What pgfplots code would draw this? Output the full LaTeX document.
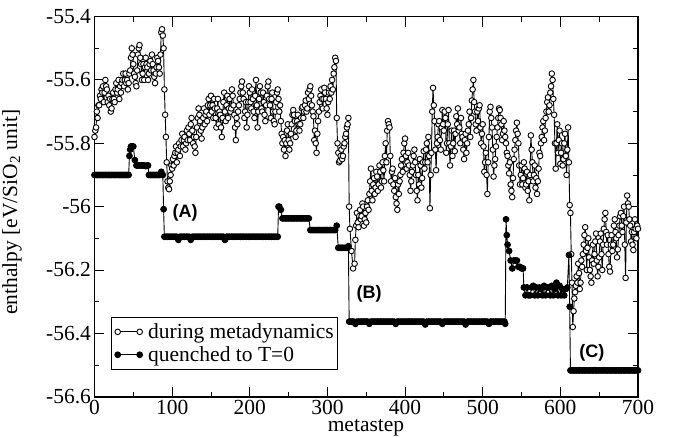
\documentclass[border=0pt]{standalone}
\usepackage{pgfplots}
\pgfplotsset{compat=1.18}
\usepackage{fontspec}
\setmainfont{Liberation Serif}
\setsansfont{Liberation Sans}
\begin{document}
\begin{tikzpicture}
\useasboundingbox (-94.5pt,-41.3pt) rectangle (585.5pt,396.7pt);
\begin{axis}[
  at={(0pt,0pt)}, anchor=south west,
  scale only axis, width=543.5pt, height=380.1pt,
  xmin=0, xmax=700, ymin=-56.6, ymax=-55.4,
  xtick={0,100,200,300,400,500,600,700},
  minor xtick={50,150,250,350,450,550,650},
  ytick={-56.6,-56.4,-56.2,-56,-55.8,-55.6,-55.4},
  minor ytick={-56.5,-56.3,-56.1,-55.9,-55.7,-55.5},
  tick align=inside, major tick length=10pt, minor tick length=5pt,
  tick style={line width=0.9pt, black},
  axis line style={line width=1.8pt},
  /pgf/number format/assume math mode=true,
  ticklabel style={font=\fontsize{21.5}{24}\selectfont},
  label style={font=\fontsize{21.5}{24}\selectfont},
  xlabel={metastep},
  ylabel={enthalpy [eV/SiO\textsubscript{2} unit]},
  xlabel style={at={(axis description cs:0.4995,-0.0824)}, anchor=center},
  ylabel style={at={(axis description cs:-0.152,0.485)}, anchor=center},
  clip=false,
  legend cell align=left,
  legend style={at={(axis description cs:0.0298,0.0702)}, anchor=south west,
    draw=black, line width=1.1pt, font=\fontsize{21.5}{24}\selectfont,
    inner xsep=2pt, inner ysep=4.5pt, row sep=2.5pt},
  legend image code/.code={\path (-4pt,0pt) (28pt,0pt);\draw[#1] plot coordinates {(0pt,0pt) (22pt,0pt)};},
]
\addplot[black, line width=0.9pt, mark=*, mark size=2.8pt, mark options={fill=white, line width=0.9pt}] coordinates {
(0,-55.78)(1,-55.76)(2,-55.75)(3,-55.70)(4,-55.72)(5,-55.68)(6,-55.68)(7,-55.65)(8,-55.66)(9,-55.63)
(10,-55.64)(11,-55.62)(12,-55.67)(13,-55.64)(14,-55.60)(15,-55.62)(16,-55.63)(17,-55.67)(18,-55.65)(19,-55.68)
(20,-55.66)(21,-55.70)(22,-55.69)(23,-55.66)(24,-55.64)(25,-55.66)(26,-55.67)(27,-55.63)(28,-55.61)(29,-55.64)
(30,-55.63)(31,-55.60)(32,-55.66)(33,-55.62)(34,-55.64)(35,-55.61)(36,-55.60)(37,-55.58)(38,-55.62)(39,-55.60)
(40,-55.58)(41,-55.61)(42,-55.60)(43,-55.63)(44,-55.61)(45,-55.58)(46,-55.57)(47,-55.53)(48,-55.50)(49,-55.52)
(50,-55.55)(51,-55.58)(52,-55.59)(53,-55.61)(54,-55.62)(55,-55.57)(56,-55.52)(57,-55.50)(58,-55.49)(59,-55.53)
(60,-55.55)(61,-55.60)(62,-55.58)(63,-55.55)(64,-55.60)(65,-55.56)(66,-55.53)(67,-55.55)(68,-55.56)(69,-55.60)
(70,-55.58)(71,-55.55)(72,-55.54)(73,-55.57)(74,-55.52)(75,-55.55)(76,-55.57)(77,-55.59)(78,-55.61)(79,-55.58)
(80,-55.56)(81,-55.53)(82,-55.54)(83,-55.56)(84,-55.58)(85,-55.52)(86,-55.45)(87,-55.44)(88,-55.46)(89,-55.50)
(90,-55.63)(91,-55.71)(92,-55.78)(93,-55.86)(94,-55.92)(95,-55.94)(96,-55.945)(97,-55.92)(98,-55.90)(99,-55.87)
(100,-55.88)(101,-55.85)(102,-55.87)(103,-55.84)(104,-55.83)(105,-55.81)(106,-55.86)(107,-55.83)(108,-55.82)(109,-55.80)
(110,-55.84)(111,-55.81)(112,-55.79)(113,-55.77)(114,-55.81)(115,-55.79)(116,-55.78)(117,-55.82)(118,-55.80)(119,-55.76)
(120,-55.79)(121,-55.75)(122,-55.77)(123,-55.79)(124,-55.74)(125,-55.72)(126,-55.76)(127,-55.80)(128,-55.78)(129,-55.81)
(130,-55.83)(131,-55.78)(132,-55.75)(133,-55.72)(134,-55.69)(135,-55.71)(136,-55.73)(137,-55.76)(138,-55.785)(139,-55.75)
(140,-55.72)(141,-55.69)(142,-55.74)(143,-55.71)(144,-55.70)(145,-55.73)(146,-55.68)(147,-55.66)(148,-55.71)(149,-55.68)
(150,-55.65)(151,-55.70)(152,-55.68)(153,-55.72)(154,-55.66)(155,-55.69)(156,-55.72)(157,-55.75)(158,-55.69)(159,-55.66)
(160,-55.74)(161,-55.70)(162,-55.71)(163,-55.75)(164,-55.78)(165,-55.72)(166,-55.67)(167,-55.64)(168,-55.70)(169,-55.73)
(170,-55.68)(171,-55.65)(172,-55.72)(173,-55.69)(174,-55.66)(175,-55.70)(176,-55.69)(177,-55.63)(178,-55.65)(179,-55.68)
(180,-55.71)(181,-55.75)(182,-55.79)(183,-55.72)(184,-55.74)(185,-55.70)(186,-55.68)(187,-55.66)(188,-55.64)(189,-55.62)
(190,-55.605)(191,-55.64)(192,-55.66)(193,-55.72)(194,-55.70)(195,-55.67)(196,-55.75)(197,-55.71)(198,-55.67)(199,-55.62)
(200,-55.64)(201,-55.67)(202,-55.69)(203,-55.63)(204,-55.66)(205,-55.70)(206,-55.72)(207,-55.65)(208,-55.60)(209,-55.68)
(210,-55.75)(211,-55.70)(212,-55.66)(213,-55.62)(214,-55.64)(215,-55.69)(216,-55.70)(217,-55.64)(218,-55.67)(219,-55.71)
(220,-55.73)(221,-55.68)(222,-55.65)(223,-55.62)(224,-55.605)(225,-55.66)(226,-55.68)(227,-55.72)(228,-55.66)(229,-55.64)
(230,-55.70)(231,-55.73)(232,-55.74)(233,-55.70)(234,-55.67)(235,-55.64)(236,-55.63)(237,-55.66)(238,-55.70)(239,-55.68)
(240,-55.73)(241,-55.77)(242,-55.80)(243,-55.78)(244,-55.82)(245,-55.79)(246,-55.84)(247,-55.80)(248,-55.76)(249,-55.74)
(250,-55.79)(251,-55.82)(252,-55.80)(253,-55.77)(254,-55.74)(255,-55.71)(256,-55.695)(257,-55.71)(258,-55.73)(259,-55.78)
(260,-55.76)(261,-55.73)(262,-55.71)(263,-55.74)(264,-55.76)(265,-55.74)(266,-55.72)(267,-55.69)(268,-55.685)(269,-55.72)
(270,-55.70)(271,-55.68)(272,-55.665)(273,-55.70)(274,-55.69)(275,-55.64)(276,-55.66)(277,-55.63)(278,-55.62)(279,-55.65)
(280,-55.68)(281,-55.70)(282,-55.715)(283,-55.79)(284,-55.76)(285,-55.80)(286,-55.83)(287,-55.77)(288,-55.73)(289,-55.70)
(290,-55.67)(291,-55.65)(292,-55.63)(293,-55.66)(294,-55.69)(295,-55.66)(296,-55.625)(297,-55.64)(298,-55.66)(299,-55.69)
(300,-55.71)(301,-55.67)(302,-55.64)(303,-55.66)(304,-55.62)(305,-55.64)(306,-55.60)(307,-55.63)(308,-55.58)(309,-55.56)
(310,-55.53)(311,-55.54)(312,-55.72)(313,-55.80)(314,-55.83)(315,-55.86)(316,-55.855)(317,-55.84)(318,-55.82)(319,-55.85)
(320,-55.84)(321,-55.81)(322,-55.80)(323,-55.78)(324,-55.77)(325,-55.75)(326,-55.74)(327,-55.72)(328,-56.00)(329,-56.07)
(331,-56.14)(333,-56.195)(335,-56.18)(336,-56.105)(337,-56.06)
(338,-56.02)(339,-56.05)(340,-56.065)(341,-56.03)(342,-56.01)(343,-56.04)(344,-56.03)(345,-55.99)(346,-56.00)(347,-56.06)
(348,-56.04)(349,-56.02)(350,-56.05)(351,-56.00)(352,-55.98)(353,-56.01)(354,-55.96)(355,-55.92)(356,-55.88)(357,-55.95)
(358,-55.98)(359,-55.93)(360,-55.91)(361,-55.96)(362,-55.94)(363,-55.89)(364,-55.905)(365,-55.95)(366,-55.93)(367,-55.87)
(368,-55.89)(369,-55.94)(370,-55.92)(371,-55.86)(372,-55.885)(373,-55.92)(374,-55.84)(375,-55.80)(376,-55.86)(377,-55.76)
(378,-55.73)(379,-55.74)(380,-55.75)(381,-55.84)(382,-55.92)(383,-55.89)(384,-55.88)(385,-55.93)(386,-55.95)(387,-55.91)
(388,-55.97)(389,-55.99)(390,-56.01)(391,-55.93)(392,-55.96)(393,-55.92)(394,-55.90)(395,-55.87)(396,-55.85)(397,-55.89)
(398,-55.83)(399,-55.80)(400,-55.785)(401,-55.84)(402,-55.88)(403,-55.86)(404,-55.83)(405,-55.87)(406,-55.90)(407,-55.95)
(408,-55.92)(409,-55.89)(410,-55.87)(411,-55.84)(412,-55.82)(413,-55.86)(414,-55.90)(415,-55.95)(416,-55.98)(417,-55.90)
(418,-55.93)(419,-55.85)(420,-55.87)(421,-55.94)(422,-55.91)(423,-55.86)(424,-55.825)(425,-55.88)(426,-55.86)(427,-55.82)
(428,-55.80)(429,-55.86)(430,-55.78)(431,-55.84)(432,-56.005)(433,-55.90)(434,-55.83)(435,-55.70)(436,-55.625)(437,-55.68)
(438,-55.73)(439,-55.82)(440,-55.885)(441,-55.80)(442,-55.78)(443,-55.74)(444,-55.73)(445,-55.79)(446,-55.82)(447,-55.75)
(448,-55.695)(449,-55.74)(450,-55.76)(451,-55.70)(452,-55.72)(453,-55.83)(454,-55.80)(455,-55.74)(456,-55.695)(457,-55.80)
(458,-55.87)(459,-55.81)(460,-55.76)(461,-55.84)(462,-55.80)(463,-55.76)(464,-55.825)(465,-55.77)(466,-55.715)(467,-55.74)
(468,-55.69)(469,-55.76)(470,-55.75)(471,-55.80)(472,-55.72)(473,-55.77)(474,-55.78)(475,-55.82)(476,-55.85)(477,-55.79)
(478,-55.77)(479,-55.83)(480,-55.80)(481,-55.76)(482,-55.74)(483,-55.70)(484,-55.78)(485,-55.72)(486,-55.665)(487,-55.63)
(488,-55.60)(489,-55.67)(490,-55.70)(491,-55.74)(492,-55.76)(493,-55.70)(494,-55.73)(495,-55.69)(496,-55.68)(497,-55.75)
(498,-55.80)(499,-55.77)(500,-55.74)(501,-55.81)(502,-55.89)(503,-55.86)(504,-55.83)(505,-55.90)(506,-55.96)(507,-55.86)
(508,-55.78)(509,-55.70)(510,-55.685)(511,-55.72)(512,-55.75)(513,-55.82)(514,-55.905)(515,-55.87)(516,-55.85)(517,-55.81)
(518,-55.78)(519,-55.75)(520,-55.72)(521,-55.69)(522,-55.695)(523,-55.72)(524,-55.74)(525,-55.79)(526,-55.77)(527,-55.73)
(528,-55.76)(529,-55.78)(530,-55.80)(531,-55.83)(532,-55.84)(533,-55.87)(534,-55.895)(535,-55.86)(536,-55.93)(537,-55.95)
(538,-55.97)(539,-55.91)(540,-55.85)(541,-55.82)(542,-55.79)(543,-55.76)(544,-55.735)(545,-55.77)(546,-55.80)(547,-55.87)
(548,-55.93)(549,-55.90)(550,-55.87)(551,-55.93)(552,-55.91)(553,-55.86)(554,-55.88)(555,-55.94)(556,-55.93)(557,-55.89)
(558,-55.95)(559,-55.92)(560,-55.98)(561,-55.90)(562,-55.775)(563,-55.82)(564,-55.86)(565,-55.92)(566,-55.90)(567,-55.87)
(568,-55.94)(569,-55.91)(570,-55.96)(571,-55.92)(572,-55.88)(573,-55.83)(574,-55.84)(575,-55.80)(576,-55.78)(577,-55.75)
(578,-55.73)(579,-55.79)(580,-55.76)(581,-55.72)(582,-55.70)(583,-55.67)(584,-55.655)(585,-55.70)(586,-55.68)(587,-55.64)
(588,-55.62)(589,-55.58)(590,-55.60)(591,-55.66)(592,-55.71)(593,-55.80)(594,-55.88)(595,-55.80)(596,-55.74)(597,-55.83)
(598,-55.79)(599,-55.76)(600,-55.865)(601,-55.83)(602,-55.80)(603,-55.87)(604,-55.85)(605,-55.80)(606,-55.77)(607,-55.84)
(608,-55.90)(609,-55.82)(610,-55.75)(611,-55.86)(612,-55.995)(613,-56.02)(614,-56.15)(615,-56.24)(616,-56.38)(617,-56.33)
(618,-56.29)(619,-56.27)(620,-56.25)(621,-56.22)(622,-56.24)(623,-56.18)(624,-56.21)(625,-56.26)(626,-56.24)(627,-56.17)
(628,-56.19)(629,-56.15)(630,-56.12)(631,-56.09)(632,-56.065)(633,-56.14)(634,-56.20)(635,-56.13)(636,-56.10)(637,-56.16)
(638,-56.20)(639,-56.22)(640,-56.24)(641,-56.17)(642,-56.12)(643,-56.18)(644,-56.15)(645,-56.11)(646,-56.085)(647,-56.17)
(648,-56.22)(649,-56.19)(650,-56.16)(651,-56.11)(652,-56.085)(653,-56.15)(654,-56.20)(655,-56.12)(656,-56.07)(657,-56.04)
(658,-56.02)(659,-56.08)(660,-56.12)(661,-56.09)(662,-56.15)(663,-56.19)(664,-56.205)(665,-56.12)(666,-56.09)(667,-56.14)
(668,-56.12)(669,-56.06)(670,-56.04)(671,-56.08)(672,-56.10)(673,-56.16)(674,-56.135)(675,-56.09)(676,-56.06)(677,-56.03)
(678,-56.02)(679,-56.06)(680,-56.08)(681,-56.03)(682,-56.00)(683,-56.12)(684,-56.225)(685,-56.05)(686,-55.965)(687,-55.99)
(688,-56.00)(689,-56.04)(690,-56.06)(691,-56.11)(692,-56.08)(693,-56.12)(694,-56.137)(695,-56.08)(696,-56.04)(697,-56.07)
(698,-56.10)(699,-56.06)(700,-56.07)
};
\addlegendentry{during metadynamics}
\addplot[black, line width=0.9pt, mark=*, mark size=2.9pt, mark options={fill=black}] coordinates {
(0,-55.9)(2,-55.9)(4,-55.9)(6,-55.9)(8,-55.9)(10,-55.9)(12,-55.9)(14,-55.9)(16,-55.9)(18,-55.9)(20,-55.9)(22,-55.9)
(24,-55.9)(26,-55.9)(28,-55.9)(30,-55.9)(32,-55.9)(34,-55.9)(36,-55.9)(38,-55.9)(40,-55.9)(42,-55.9)(44,-55.9)
(45,-55.84)(46,-55.82)(47,-55.81)(48,-55.81)(50,-55.81)(52,-55.853)(54,-55.87)(56,-55.87)(58,-55.87)(60,-55.87)
(62,-55.87)(64,-55.87)(66,-55.872)(68,-55.87)(69,-55.87)
(70,-55.9)(72,-55.9)(74,-55.9)(76,-55.9)(78,-55.9)(80,-55.9)(82,-55.9)(84,-55.9)(86,-55.89)(88,-55.9)(89,-56.008)
(90,-56.095)(92,-56.095)(94,-56.095)(96,-56.095)(98,-56.095)(100,-56.095)(102,-56.095)(104,-56.095)(106,-56.095)
(108,-56.105)(110,-56.095)(112,-56.095)(114,-56.095)(116,-56.095)(118,-56.095)(120,-56.095)(122,-56.095)(124,-56.105)
(126,-56.095)(128,-56.095)(130,-56.095)(132,-56.095)(134,-56.095)(136,-56.095)(138,-56.095)(140,-56.095)(142,-56.095)
(144,-56.095)(146,-56.095)(148,-56.095)(150,-56.095)(152,-56.095)(154,-56.095)(156,-56.095)(158,-56.095)(160,-56.095)
(162,-56.095)(164,-56.095)(166,-56.095)(168,-56.105)(170,-56.095)(172,-56.095)(174,-56.095)(176,-56.095)(178,-56.095)
(180,-56.095)(182,-56.095)(184,-56.095)(186,-56.095)(188,-56.095)(190,-56.095)(192,-56.095)(194,-56.095)(196,-56.095)
(198,-56.095)(200,-56.095)(202,-56.095)(204,-56.095)(206,-56.095)(208,-56.095)(210,-56.095)(212,-56.095)(214,-56.095)
(216,-56.095)(218,-56.095)(220,-56.095)(222,-56.095)(224,-56.095)(226,-56.095)(228,-56.095)(230,-56.095)(232,-56.095)
(234,-56.095)(236,-56.095)
(237,-56.0)(238,-56.0)(240,-56.01)
(242,-56.037)(244,-56.037)(246,-56.037)(248,-56.037)(250,-56.037)(252,-56.037)(254,-56.037)(256,-56.037)(258,-56.037)
(260,-56.037)(262,-56.037)(264,-56.037)(266,-56.037)(268,-56.037)(270,-56.037)(272,-56.037)(274,-56.037)(276,-56.037)
(278,-56.074)(280,-56.074)(282,-56.074)(284,-56.074)(286,-56.074)(288,-56.074)(290,-56.074)(292,-56.074)(294,-56.074)
(296,-56.074)(298,-56.074)(300,-56.074)(302,-56.074)(304,-56.074)(306,-56.074)(308,-56.074)(310,-56.074)(312,-56.06)
(314,-56.13)(316,-56.13)(318,-56.13)(320,-56.13)(322,-56.13)(324,-56.13)(326,-56.13)(327,-56.125)
(328,-56.363)(330,-56.363)(332,-56.363)(334,-56.363)(336,-56.37)(338,-56.363)(340,-56.363)(342,-56.363)(344,-56.363)
(346,-56.363)(348,-56.363)(350,-56.363)(352,-56.363)(354,-56.37)(356,-56.363)(358,-56.363)(360,-56.363)(362,-56.363)
(364,-56.363)(366,-56.363)(368,-56.363)(370,-56.363)(372,-56.363)(374,-56.363)(376,-56.363)(378,-56.363)(380,-56.363)
(382,-56.363)(384,-56.363)(386,-56.363)(388,-56.37)(390,-56.363)(392,-56.363)(394,-56.363)(396,-56.363)(398,-56.363)
(400,-56.363)(402,-56.363)(404,-56.363)(406,-56.363)(408,-56.363)(410,-56.363)(412,-56.363)(414,-56.363)(416,-56.363)
(418,-56.363)(420,-56.363)(422,-56.363)(424,-56.363)(426,-56.372)(428,-56.363)(430,-56.363)(432,-56.363)(434,-56.363)
(436,-56.363)(438,-56.363)(440,-56.363)(442,-56.363)(444,-56.363)(446,-56.363)(448,-56.37)(450,-56.363)(452,-56.363)
(454,-56.363)(456,-56.363)(458,-56.363)(460,-56.363)(462,-56.363)(464,-56.363)(466,-56.363)(468,-56.363)(470,-56.363)
(472,-56.363)(474,-56.363)(476,-56.363)(478,-56.372)(480,-56.363)(482,-56.363)(484,-56.363)(486,-56.363)(488,-56.363)
(490,-56.363)(492,-56.363)(494,-56.363)(496,-56.363)(498,-56.363)(500,-56.363)(502,-56.363)(504,-56.363)(506,-56.363)
(508,-56.37)(510,-56.363)(512,-56.363)(514,-56.363)(516,-56.363)(518,-56.363)(520,-56.363)(522,-56.363)(524,-56.363)
(526,-56.363)(528,-56.363)(529,-56.37)
(530,-56.04)(531,-56.09)(532,-56.12)(534,-56.14)(536,-56.17)(538,-56.195)(540,-56.17)(542,-56.17)(544,-56.17)(546,-56.19)
(548,-56.19)(550,-56.195)(552,-56.195)
(553,-56.255)(555,-56.28)(557,-56.255)(559,-56.28)(561,-56.28)(563,-56.255)(565,-56.25)(567,-56.28)(569,-56.255)(571,-56.28)
(573,-56.255)(575,-56.26)(577,-56.28)(579,-56.25)(581,-56.28)(583,-56.255)(585,-56.255)(587,-56.28)(589,-56.25)(591,-56.28)
(593,-56.26)(595,-56.24)(597,-56.28)(599,-56.25)(601,-56.28)(603,-56.26)(605,-56.28)(607,-56.26)(609,-56.255)
(611,-56.153)(612,-56.316)
(613,-56.517)(615,-56.517)(617,-56.517)(619,-56.517)(621,-56.517)(623,-56.517)(625,-56.517)(627,-56.517)(629,-56.517)
(631,-56.517)(633,-56.517)(635,-56.517)(637,-56.517)(639,-56.517)(641,-56.517)(643,-56.517)(645,-56.517)(647,-56.517)
(649,-56.517)(651,-56.517)(653,-56.517)(655,-56.517)(657,-56.517)(659,-56.517)(661,-56.517)(663,-56.517)(665,-56.517)
(667,-56.517)(669,-56.517)(671,-56.517)(673,-56.517)(675,-56.517)(677,-56.517)(679,-56.517)(681,-56.517)(683,-56.517)
(685,-56.517)(687,-56.517)(689,-56.517)(691,-56.517)(693,-56.517)(695,-56.517)(697,-56.517)(699,-56.517)(700,-56.517)
};
\addlegendentry{quenched to T=0}
\node[font=\fontsize{18}{18}\selectfont\sffamily\bfseries] at (axis cs:116.6,-56.02) {(A)};
\node[font=\fontsize{18}{18}\selectfont\sffamily\bfseries] at (axis cs:353.7,-56.276) {(B)};
\node[font=\fontsize{18}{18}\selectfont\sffamily\bfseries] at (axis cs:640.7,-56.462) {(C)};
\end{axis}
\end{tikzpicture}
\end{document}
